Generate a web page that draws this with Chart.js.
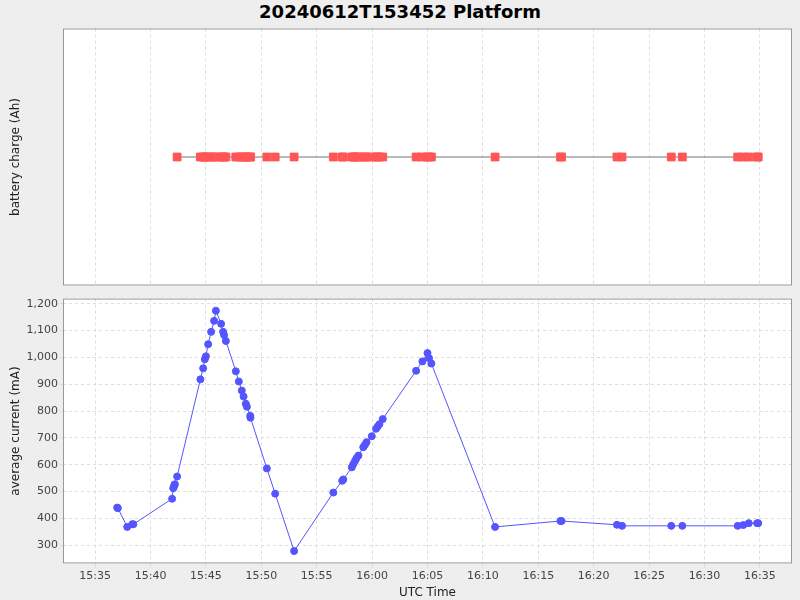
<!DOCTYPE html>
<html><head><meta charset="utf-8">
<script src="https://cdn.jsdelivr.net/npm/chart.js@4/dist/chart.umd.min.js"></script>
<style>
body{margin:0;background:#eeeeee;width:800px;height:600px;overflow:hidden;font-family:"DejaVu Sans";}
#t{position:absolute;left:0;top:0;width:800px;text-align:center;font:bold 18px "DejaVu Sans";color:#000;line-height:24px;}
#c1{position:absolute;left:0;top:22px;}
#c2{position:absolute;left:0;top:290px;}
</style></head><body>
<div id="t">20240612T153452 Platform</div>
<canvas id="c1" width="800" height="270"></canvas>
<canvas id="c2" width="800" height="310"></canvas>
<script>
// minutes after 15:00 UTC
const times = [36.99,37.05,37.9,38.35,38.45,41.95,42.05,42.1,42.15,42.2,42.4,44.5,44.75,44.9,45.0,45.2,45.47,45.74,45.9,46.37,46.55,46.64,46.8,47.7,47.97,48.24,48.4,48.6,48.7,49.0,49.02,50.5,51.25,52.96,56.5,57.3,57.4,58.17,58.3,58.47,58.6,58.77,59.2,59.35,59.5,59.97,60.36,60.5,60.66,60.96,63.97,64.54,65.0,65.14,65.35,71.1,77.0,77.1,82.1,82.56,87.0,88.0,93.0,93.5,94.0,94.75,94.85];
const current = [440,438,368,378,378,473,512,517,524,527,556,918,959,993,1004,1049,1095,1136,1174,1125,1095,1083,1061,948,910,876,854,827,816,782,775,586,492,278,496,540,545,590,602,615,625,634,665,674,684,706,734,742,751,770,950,985,1016,997,977,368,390,390,376,372,372,372,372,375,382,382,382];
const chargeStart = 10; // battery charge samples begin at 15:42:24
const charge = times.map((t,i)=> i < chargeStart ? null : 0);
const xTicks = [35,40,45,50,55,60,65,70,75,80,85,90,95];
const yTicks = [300,400,500,600,700,800,900,1000,1100,1200];
const xMin = 32.1, xMax = 97.9;
const fmt = v => { const h = 15 + Math.floor(v/60), m = Math.round(v%60); return h + ':' + String(m).padStart(2,'0'); };

const bg = {id:'bg',beforeDraw(c){const a=c.chartArea,x=c.ctx;x.save();x.fillStyle='#fff';x.fillRect(a.left,a.top,a.width,a.height);x.restore();},
 afterDraw(c){const a=c.chartArea,x=c.ctx;x.save();x.strokeStyle='#999';x.lineWidth=1;x.strokeRect(a.left+0.5,a.top+0.5,a.width-1,a.height-1);x.restore();}};
const grid = {color:'#dddddd',lineWidth:1};
const tickFont = {family:'DejaVu Sans',size:11};
const fitY = s => { s.width = 58; };
const xScale = (show) => ({type:'linear',min:xMin,max:xMax,
  afterBuildTicks: s => { s.ticks = xTicks.map(v=>({value:v})); },
  grid:{...grid,drawTicks:show,tickLength:4}, border:{display:false,dash:[3,3]},
  ticks:{display:show,font:tickFont,color:'#444',callback:v=>fmt(v),maxRotation:0,padding:2},
  title:{display:show,text:'UTC Time',font:{family:'DejaVu Sans',size:12},color:'#222',padding:{top:1,bottom:0}}});

const common = {responsive:false,animation:false,plugins:{legend:{display:false},tooltip:{enabled:false}}};

new Chart(document.getElementById('c1'),{type:'line',
 data:{datasets:[{data:times.map((t,i)=>({x:t,y:charge[i]})),borderColor:'#777777',borderWidth:1,spanGaps:true,
   pointStyle:'rect',pointRadius:5.5,pointBackgroundColor:'#ff5555',pointBorderColor:'#ff5555'}]},
 options:{...common,layout:{padding:{left:5,right:8,top:4,bottom:2}},
  scales:{x:{...xScale(false),grid:{...grid,drawTicks:false}},
   y:{min:-1,max:1,afterFit:fitY,grid:{display:false},border:{display:false},ticks:{display:false},
     title:{display:true,text:'battery charge (Ah)',font:{family:'DejaVu Sans',size:12},color:'#222',padding:{bottom:4}}}}},
 plugins:[bg]});

new Chart(document.getElementById('c2'),{type:'line',
 data:{datasets:[{data:times.map((t,i)=>({x:t,y:current[i]})),borderColor:'#5555ff',borderWidth:1,
   pointRadius:3.5,pointBackgroundColor:'#5555ff',pointBorderColor:'#5555ff'}]},
 options:{...common,layout:{padding:{left:5,right:8,top:8,bottom:0}},
  scales:{x:xScale(true),
   y:{min:232,max:1219,afterFit:fitY,afterBuildTicks:s=>{s.ticks=yTicks.map(v=>({value:v}));},
     grid:{...grid,drawTicks:true,tickLength:3},border:{display:false,dash:[3,3]},
     ticks:{font:tickFont,color:'#444',padding:2,callback:v=>v.toLocaleString('en-US')},
     title:{display:true,text:'average current (mA)',font:{family:'DejaVu Sans',size:12},color:'#222',padding:{bottom:4}}}}},
 plugins:[bg]});
</script>
</body></html>
